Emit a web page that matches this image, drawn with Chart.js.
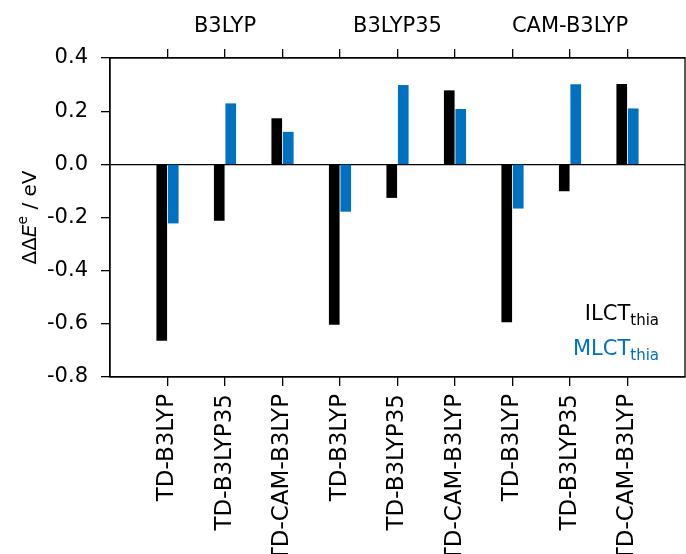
<!DOCTYPE html>
<html>
<head>
<meta charset="utf-8">
<script src="https://cdn.jsdelivr.net/npm/chart.js@4"></script>
<style>
  html, body { margin: 0; padding: 0; background: #fff; }
  #wrap { width: 686px; height: 554px; }
</style>
</head>
<body>
<div id="wrap"><canvas id="bar-chart"></canvas></div>
<script>
// data
const methods = ['TD-B3LYP', 'TD-B3LYP35', 'TD-CAM-B3LYP',
                 'TD-B3LYP', 'TD-B3LYP35', 'TD-CAM-B3LYP',
                 'TD-B3LYP', 'TD-B3LYP35', 'TD-CAM-B3LYP'];
const functionals = ['B3LYP', 'B3LYP35', 'CAM-B3LYP'];
const ilct = [-0.662, -0.211, 0.172, -0.602, -0.125, 0.277, -0.593, -0.100, 0.301];
const mlct = [-0.221, 0.228, 0.121, -0.177, 0.297, 0.207, -0.165, 0.300, 0.209];
const yTicks = [-0.8, -0.6, -0.4, -0.2, 0.0, 0.2, 0.4];

const BLUE = '#0070c0';
const FONT = 'DejaVu Sans';

Chart.defaults.font.family = FONT;
Chart.defaults.font.size = 20;
Chart.defaults.color = '#000';

const positions = methods.map((m, i) => i + 1);

function fixTicks(scale) {
    scale.ticks = positions.map(v => ({ value: v }));
}

// frame, y title and the hand-made legend
const extras = {
    id: 'extras',
    afterDraw(chart) {
        const c = chart.ctx;
        const a = chart.chartArea;
        c.save();
        c.strokeStyle = '#000';
        c.lineWidth = 1.3;
        c.strokeRect(a.left, a.top, a.right - a.left, a.bottom - a.top);

        // y title: ΔΔE^e / eV
        c.translate(36, (a.top + a.bottom) / 2);
        c.rotate(-Math.PI / 2);
        c.textBaseline = 'alphabetic';
        c.fillStyle = '#000';
        const parts = [
            { t: 'ΔΔ', f: '20px "' + FONT + '"', dy: 0 },
            { t: 'E', f: 'italic 20px "' + FONT + '"', dy: 0 },
            { t: 'e', f: '14px "' + FONT + '"', dy: -9 },
            { t: ' / eV', f: '20px "' + FONT + '"', dy: 0 }
        ];
        let total = 0;
        parts.forEach(p => { c.font = p.f; p.w = c.measureText(p.t).width; total += p.w; });
        let x = -total / 2;
        parts.forEach(p => { c.font = p.f; c.fillText(p.t, x, p.dy); x += p.w; });
        c.restore();

        // legend text
        const entries = [
            { main: 'ILCT', sub: 'thia', color: '#000', y: 320 },
            { main: 'MLCT', sub: 'thia', color: BLUE, y: 355 }
        ];
        c.save();
        c.textBaseline = 'alphabetic';
        entries.forEach(e => {
            c.font = '21px "' + FONT + '"';
            const w1 = c.measureText(e.main).width;
            c.font = '15px "' + FONT + '"';
            const w2 = c.measureText(e.sub).width;
            const x0 = a.right - 26 - w1 - w2;
            c.fillStyle = e.color;
            c.font = '21px "' + FONT + '"';
            c.fillText(e.main, x0, e.y);
            c.font = '15px "' + FONT + '"';
            c.fillText(e.sub, x0 + w1, e.y + 5);
        });
        c.restore();
    }
};

const chartData = {
    datasets: [{
        label: 'ILCT',
        data: ilct.map((v, i) => ({ x: positions[i] - 0.1, y: v })),
        backgroundColor: '#000',
        barThickness: 10,
        grouped: false
    }, {
        label: 'MLCT',
        data: mlct.map((v, i) => ({ x: positions[i] + 0.1, y: v })),
        backgroundColor: BLUE,
        barThickness: 10,
        grouped: false
    }]
};

const config = {
    type: 'bar',
    data: chartData,
    options: {
        responsive: true,
        maintainAspectRatio: false,
        animation: false,
        layout: { padding: { left: 0, right: 1, top: 0, bottom: 0 } },
        plugins: {
            legend: { display: false },
            tooltip: { enabled: false }
        },
        scales: {
            x: {
                type: 'linear',
                position: 'bottom',
                offset: false,
                min: 0,
                max: 10,
                afterBuildTicks: fixTicks,
                afterFit: s => { s.height = 177; },
                grid: { offset: false, drawOnChartArea: false, tickLength: 9, color: '#000', lineWidth: 1.3 },
                border: { display: true, color: '#000', width: 1.3 },
                ticks: {
                    autoSkip: false,
                    minRotation: 90,
                    maxRotation: 90,
                    padding: 8,
                    font: { size: 23 },
                    callback: v => methods[v - 1] || ''
                }
            },
            xTop: {
                type: 'linear',
                position: 'top',
                offset: false,
                min: 0,
                max: 10,
                afterBuildTicks: fixTicks,
                afterFit: s => { s.height = 58; },
                grid: { offset: false, drawOnChartArea: false, tickLength: 9, color: '#000', lineWidth: 1.3 },
                border: { display: true, color: '#000', width: 1.3 },
                ticks: {
                    autoSkip: false,
                    minRotation: 0,
                    maxRotation: 0,
                    padding: 10,
                    font: { size: 21 },
                    callback: v => (v % 3 === 2 ? functionals[(v - 2) / 3] : '')
                }
            },
            y: {
                min: -0.8,
                max: 0.4,
                afterBuildTicks: s => { s.ticks = yTicks.map(v => ({ value: v })); },
                afterFit: s => { s.width = 110; },
                grid: {
                    color: c => (c.tick && Math.abs(c.tick.value) < 1e-9 ? '#000' : 'rgba(0,0,0,0)'),
                    tickColor: '#000',
                    tickLength: 9,
                    lineWidth: 1.3
                },
                border: { display: true, color: '#000', width: 1.3 },
                ticks: {
                    padding: 13,
                    font: { size: 21 },
                    callback: v => v.toFixed(1)
                }
            }
        }
    },
    plugins: [extras]
};

const chart = new Chart(document.getElementById('bar-chart'), config);
</script>
</body>
</html>
